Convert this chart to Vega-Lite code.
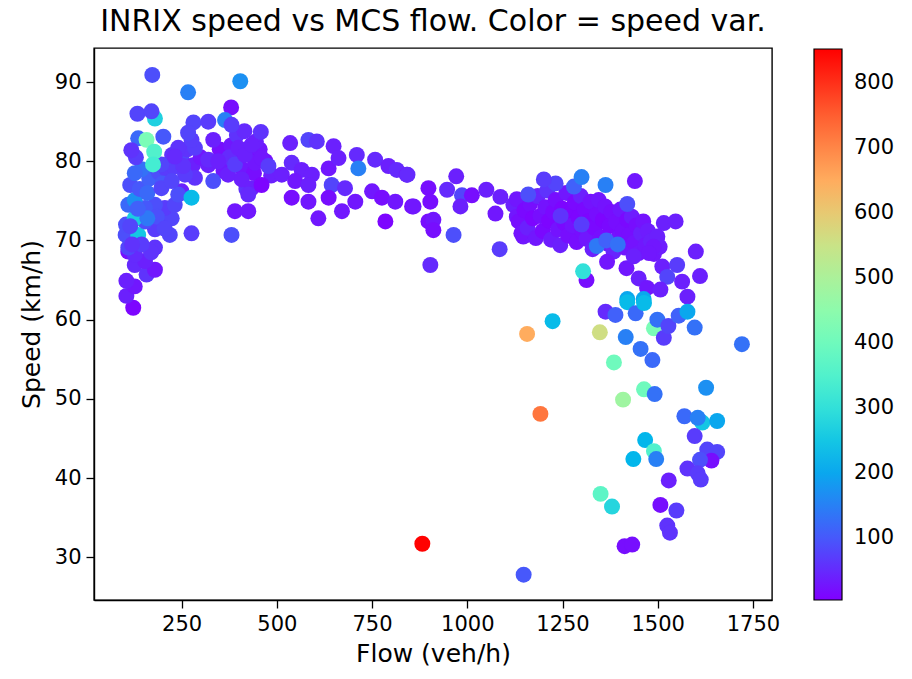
{
  "$schema": "https://vega.github.io/schema/vega-lite/v6.json",
  "width": 678,
  "height": 552,
  "autosize": {"type": "none"},
  "padding": {"left": 94, "top": 48, "right": 140, "bottom": 79},
  "background": "white",
  "title": {"text": "INRIX speed vs MCS flow. Color = speed var.", "font": "DejaVu Sans", "fontSize": 30, "fontWeight": "normal", "color": "black", "anchor": "middle", "offset": 11},
  "config": {
    "view": {"stroke": "black", "strokeWidth": 1.4},
    "axis": {"grid": false, "domainColor": "black", "domainWidth": 1.4, "tickColor": "black", "tickWidth": 1.3, "tickSize": 8, "labelFont": "DejaVu Sans", "labelFontSize": 21, "labelColor": "black", "labelPadding": 5, "titleFont": "DejaVu Sans", "titleFontSize": 25, "titleFontWeight": "normal", "titleColor": "black"}
  },
  "data": {"values": [
    {"f":110,"s":68.6,"v":20},{"f":123,"s":61.5,"v":10},{"f":105,"s":63.0,"v":40},{"f":127,"s":64.2,"v":30},{"f":105,"s":64.9,"v":40},{"f":127,"s":66.9,"v":50},{"f":158,"s":65.7,"v":60},{"f":180,"s":66.3,"v":30},{"f":154,"s":67.4,"v":40},{"f":127,"s":68.2,"v":50},{"f":110,"s":69.1,"v":80},{"f":180,"s":69.1,"v":60},{"f":103,"s":70.7,"v":90},{"f":180,"s":71.4,"v":70},{"f":219,"s":70.7,"v":80},{"f":136,"s":70.7,"v":250},{"f":104,"s":72.0,"v":90},{"f":154,"s":72.4,"v":90},{"f":197,"s":73.3,"v":50},{"f":224,"s":72.8,"v":80},{"f":206,"s":74.1,"v":70},{"f":180,"s":74.5,"v":90},{"f":154,"s":74.1,"v":100},{"f":127,"s":72.8,"v":260},{"f":110,"s":74.5,"v":120},{"f":127,"s":75.1,"v":170},
    {"f":115,"s":77.0,"v":90},{"f":140,"s":76.5,"v":100},{"f":165,"s":77.8,"v":110},{"f":190,"s":78.6,"v":90},{"f":210,"s":79.0,"v":70},{"f":225,"s":80.8,"v":60},{"f":145,"s":79.0,"v":130},{"f":130,"s":80.5,"v":70},{"f":160,"s":76.0,"v":120},{"f":185,"s":73.0,"v":90},{"f":205,"s":71.5,"v":80},{"f":170,"s":68.5,"v":60},{"f":145,"s":69.5,"v":70},{"f":120,"s":69.5,"v":60},{"f":115,"s":71.8,"v":80},{"f":160,"s":72.8,"v":140},{"f":135,"s":74.0,"v":110},{"f":200,"s":77.2,"v":100},{"f":230,"s":79.3,"v":70},{"f":250,"s":80.3,"v":80},{"f":265,"s":81.5,"v":60},{"f":280,"s":79.5,"v":40},{"f":300,"s":80.5,"v":30},{"f":320,"s":79.5,"v":40},
    {"f":250,"s":76.2,"v":40},{"f":232,"s":74.5,"v":80},{"f":197,"s":76.6,"v":80},{"f":241,"s":75.8,"v":90},{"f":276,"s":75.4,"v":230},{"f":285,"s":77.9,"v":60},{"f":259,"s":78.3,"v":70},{"f":224,"s":77.5,"v":80},{"f":276,"s":70.9,"v":70},{"f":381,"s":70.7,"v":90},{"f":390,"s":73.7,"v":30},{"f":425,"s":73.7,"v":30},
    {"f":350,"s":81.5,"v":20},{"f":380,"s":82.0,"v":30},{"f":395,"s":80.5,"v":20},{"f":410,"s":79.0,"v":30},{"f":425,"s":81.0,"v":20},{"f":440,"s":78.5,"v":20},{"f":455,"s":81.5,"v":30},{"f":470,"s":80.0,"v":20},{"f":485,"s":78.2,"v":40},{"f":360,"s":78.8,"v":30},{"f":375,"s":80.5,"v":50},{"f":420,"s":76.5,"v":60},{"f":445,"s":82.5,"v":40},{"f":395,"s":83.3,"v":60},{"f":415,"s":83.8,"v":50},
    {"f":333,"s":77.5,"v":90},{"f":372,"s":78.3,"v":40},{"f":408,"s":77.7,"v":40},{"f":434,"s":76.6,"v":40},{"f":425,"s":75.8,"v":50},{"f":460,"s":77.0,"v":10},{"f":390,"s":79.6,"v":70},{"f":443,"s":79.8,"v":30},{"f":460,"s":80.4,"v":30},{"f":478,"s":79.4,"v":70},{"f":333,"s":82.7,"v":40},{"f":241,"s":81.7,"v":60},{"f":285,"s":81.7,"v":70},{"f":320,"s":80.2,"v":50},{"f":346,"s":80.0,"v":40},{"f":399,"s":81.7,"v":40},{"f":416,"s":80.8,"v":40},{"f":434,"s":82.1,"v":40},{"f":254,"s":79.4,"v":60},{"f":197,"s":79.6,"v":80},{"f":232,"s":80.6,"v":50},{"f":276,"s":82.7,"v":70},
    {"f":173,"s":90.9,"v":90},{"f":267,"s":88.7,"v":150},{"f":404,"s":90.1,"v":170},{"f":380,"s":86.8,"v":20},{"f":134,"s":86.0,"v":80},{"f":180,"s":85.4,"v":270},{"f":171,"s":86.3,"v":80},{"f":281,"s":84.9,"v":80},{"f":320,"s":85.0,"v":70},{"f":364,"s":85.2,"v":150},{"f":381,"s":84.6,"v":70},{"f":458,"s":83.7,"v":60},{"f":267,"s":83.6,"v":80},{"f":202,"s":83.1,"v":100},{"f":136,"s":82.9,"v":120},{"f":158,"s":82.7,"v":420},{"f":118,"s":81.4,"v":60},{"f":178,"s":81.2,"v":350},{"f":127,"s":78.5,"v":120},{"f":175,"s":79.6,"v":330},
    {"f":535,"s":82.3,"v":40},{"f":583,"s":82.7,"v":80},{"f":605,"s":82.5,"v":60},{"f":649,"s":81.9,"v":40},{"f":710,"s":80.8,"v":50},{"f":758,"s":80.2,"v":50},{"f":793,"s":79.4,"v":40},{"f":815,"s":78.9,"v":50},{"f":841,"s":78.3,"v":40},{"f":539,"s":79.8,"v":50},{"f":565,"s":78.9,"v":40},{"f":592,"s":78.3,"v":40},{"f":636,"s":79.1,"v":30},{"f":662,"s":80.4,"v":40},{"f":513,"s":78.3,"v":40},{"f":548,"s":77.5,"v":30},{"f":583,"s":77.0,"v":40},{"f":644,"s":77.0,"v":80},{"f":679,"s":76.6,"v":50},{"f":539,"s":75.4,"v":20},{"f":583,"s":74.9,"v":30},{"f":636,"s":75.4,"v":20},{"f":706,"s":74.9,"v":30},{"f":750,"s":76.2,"v":30},{"f":776,"s":75.4,"v":20},{"f":811,"s":74.9,"v":30},{"f":855,"s":74.3,"v":20},{"f":898,"s":76.6,"v":20},{"f":903,"s":74.9,"v":20},{"f":898,"s":72.4,"v":20},{"f":785,"s":72.4,"v":10},{"f":671,"s":73.7,"v":30},{"f":609,"s":72.8,"v":30},{"f":903,"s":66.9,"v":50},{"f":714,"s":79.1,"v":150},
    {"f":843,"s":78.3,"v":50},{"f":971,"s":78.1,"v":40},{"f":859,"s":74.3,"v":30},{"f":947,"s":76.4,"v":50},{"f":986,"s":75.7,"v":80},{"f":1012,"s":75.7,"v":20},{"f":1050,"s":76.4,"v":40},{"f":1087,"s":75.5,"v":40},{"f":1074,"s":73.4,"v":30},{"f":982,"s":74.3,"v":40},{"f":911,"s":72.6,"v":30},{"f":911,"s":71.3,"v":20},{"f":964,"s":70.7,"v":90},{"f":1085,"s":68.9,"v":70},
    {"f":1121,"s":74.5,"v":40},{"f":1130,"s":73.0,"v":30},{"f":1147,"s":70.5,"v":30},
    {"f":1130,"s":75.2,"v":30},{"f":1135,"s":72.4,"v":20},{"f":1142,"s":70.9,"v":25},{"f":1150,"s":73.8,"v":15},{"f":1158,"s":71.6,"v":40},{"f":1165,"s":74.6,"v":20},{"f":1172,"s":72.8,"v":10},{"f":1180,"s":70.3,"v":30},{"f":1185,"s":75.6,"v":45},{"f":1192,"s":73.1,"v":20},{"f":1198,"s":71.2,"v":15},{"f":1205,"s":74.2,"v":25},{"f":1210,"s":76.3,"v":60},{"f":1215,"s":72.5,"v":10},{"f":1220,"s":70.1,"v":35},{"f":1226,"s":73.6,"v":15},{"f":1232,"s":75.1,"v":20},{"f":1238,"s":71.4,"v":25},{"f":1244,"s":69.4,"v":40},{"f":1250,"s":74.0,"v":10},{"f":1255,"s":72.2,"v":15},{"f":1260,"s":76.0,"v":30},{"f":1265,"s":70.6,"v":20},{"f":1270,"s":73.4,"v":10},{"f":1276,"s":71.9,"v":25},{"f":1282,"s":74.8,"v":15},{"f":1287,"s":69.8,"v":20},{"f":1292,"s":72.9,"v":10},{"f":1298,"s":75.6,"v":40},{"f":1303,"s":71.1,"v":20},{"f":1308,"s":73.9,"v":15},{"f":1313,"s":70.2,"v":30},{"f":1318,"s":72.4,"v":10},{"f":1324,"s":74.9,"v":25},{"f":1329,"s":68.9,"v":40},{"f":1334,"s":71.6,"v":15},{"f":1340,"s":73.3,"v":20},{"f":1345,"s":75.1,"v":30},{"f":1350,"s":70.4,"v":20},{"f":1356,"s":72.6,"v":10},{"f":1362,"s":74.3,"v":25},{"f":1368,"s":69.6,"v":35},{"f":1373,"s":71.8,"v":15},{"f":1378,"s":73.6,"v":20},{"f":1384,"s":68.6,"v":45},{"f":1390,"s":72.3,"v":20},{"f":1396,"s":70.3,"v":25},{"f":1402,"s":73.9,"v":30},{"f":1408,"s":71.2,"v":20},{"f":1414,"s":69.1,"v":30},{"f":1420,"s":72.6,"v":15},{"f":1426,"s":70.7,"v":20},{"f":1432,"s":73.0,"v":35},{"f":1438,"s":69.7,"v":25},{"f":1444,"s":71.9,"v":20},{"f":1450,"s":68.4,"v":30},{"f":1456,"s":70.9,"v":40},{"f":1462,"s":72.4,"v":25},{"f":1468,"s":69.4,"v":30},{"f":1474,"s":71.2,"v":35},{"f":1482,"s":69.9,"v":40},{"f":1490,"s":68.3,"v":30},{"f":1498,"s":70.3,"v":40},{"f":1505,"s":69.2,"v":35},
    {"f":1340,"s":69.3,"v":140},{"f":1365,"s":70.0,"v":110},{"f":1395,"s":69.5,"v":130},{"f":1280,"s":76.8,"v":110},{"f":1232,"s":77.2,"v":80},{"f":1160,"s":75.8,"v":90},{"f":1420,"s":74.6,"v":90},{"f":1300,"s":72.0,"v":70},{"f":1245,"s":73.1,"v":60},
    {"f":1201,"s":77.7,"v":70},{"f":1300,"s":78.0,"v":150},{"f":1363,"s":77.0,"v":150},{"f":1440,"s":77.5,"v":30},{"f":1516,"s":72.2,"v":40},{"f":1547,"s":72.4,"v":40},{"f":1600,"s":68.6,"v":40},{"f":1611,"s":65.5,"v":40},{"f":1313,"s":65.0,"v":20},{"f":1304,"s":66.1,"v":300},{"f":1367,"s":67.3,"v":30},{"f":1418,"s":66.5,"v":30},{"f":1450,"s":65.2,"v":40},{"f":1512,"s":66.7,"v":40},{"f":1551,"s":66.9,"v":70},{"f":1525,"s":65.4,"v":80},{"f":1564,"s":64.8,"v":40},{"f":1472,"s":64.0,"v":30},{"f":1507,"s":63.8,"v":40},{"f":1578,"s":62.9,"v":40},{"f":1420,"s":62.6,"v":200},{"f":1463,"s":62.6,"v":200},{"f":1499,"s":70.5,"v":40},{"f":1489,"s":69.2,"v":30},{"f":1477,"s":68.4,"v":30},{"f":1437,"s":68.0,"v":40},
    {"f":1157,"s":58.2,"v":650},{"f":1224,"s":59.8,"v":230},{"f":1348,"s":58.4,"v":560},{"f":1363,"s":61.0,"v":50},{"f":1389,"s":60.6,"v":110},{"f":1420,"s":62.2,"v":230},{"f":1442,"s":60.8,"v":120},{"f":1464,"s":62.1,"v":230},{"f":1416,"s":57.8,"v":150},{"f":1455,"s":56.3,"v":130},{"f":1486,"s":54.9,"v":120},{"f":1385,"s":54.6,"v":400},{"f":1490,"s":58.9,"v":420},{"f":1499,"s":60.0,"v":130},{"f":1516,"s":57.7,"v":70},{"f":1528,"s":59.2,"v":80},{"f":1555,"s":60.5,"v":110},{"f":1578,"s":61.0,"v":200},{"f":1597,"s":59.0,"v":130},{"f":1721,"s":56.9,"v":130},{"f":1464,"s":51.2,"v":400},{"f":1492,"s":50.6,"v":130},{"f":1409,"s":49.9,"v":480},{"f":1192,"s":48.1,"v":720},{"f":1627,"s":51.4,"v":170},{"f":1570,"s":47.8,"v":120},{"f":1617,"s":47.0,"v":250},{"f":1605,"s":47.6,"v":150},{"f":1656,"s":47.2,"v":200},{"f":1597,"s":45.3,"v":70},{"f":1467,"s":44.8,"v":220},{"f":1490,"s":43.4,"v":350},{"f":1496,"s":42.4,"v":150},{"f":1436,"s":42.4,"v":220},{"f":1630,"s":43.6,"v":80},{"f":1656,"s":43.3,"v":80},{"f":1641,"s":42.2,"v":20},{"f":1611,"s":42.3,"v":90},{"f":1578,"s":41.2,"v":60},{"f":1605,"s":40.6,"v":70},{"f":1613,"s":39.8,"v":70},{"f":1529,"s":39.7,"v":40},{"f":1350,"s":38.0,"v":370},{"f":1380,"s":36.4,"v":280},{"f":1507,"s":36.6,"v":20},{"f":1549,"s":35.9,"v":70},{"f":1525,"s":34.0,"v":60},{"f":1532,"s":33.1,"v":60},{"f":1413,"s":31.4,"v":20},{"f":1433,"s":31.6,"v":20},{"f":1148,"s":27.8,"v":100},{"f":882,"s":31.7,"v":850}
  ]},
  "mark": {"type": "circle", "size": 255, "opacity": 1, "strokeWidth": 0},
  "encoding": {
    "x": {"field": "f", "type": "quantitative", "title": "Flow (veh/h)", "scale": {"domain": [20, 1800], "nice": false, "zero": false}, "axis": {"values": [250, 500, 750, 1000, 1250, 1500, 1750], "format": "d", "titlePadding": 7}},
    "y": {"field": "s", "type": "quantitative", "title": "Speed (km/h)", "scale": {"domain": [24.6, 94.3], "nice": false, "zero": false}, "axis": {"values": [30, 40, 50, 60, 70, 80, 90], "titlePadding": 10}},
    "color": {"field": "v", "type": "quantitative",
      "scale": {"domain": [5, 110.9, 216.75, 322.6, 428.5, 534.4, 640.25, 746.1, 852], "range": ["#8000ff", "#4062fa", "#00b4ec", "#40ecd4", "#80ffb4", "#c0eb8d", "#ffb462", "#ff6232", "#ff0000"], "interpolate": "rgb"},
      "legend": {"orient": "none", "legendX": 720, "legendY": 1, "direction": "vertical", "title": null, "gradientLength": 551, "gradientThickness": 28, "gradientStrokeColor": "black", "gradientStrokeWidth": 1.2, "labelFont": "DejaVu Sans", "labelFontSize": 21, "labelColor": "black", "labelOffset": 12, "values": [100, 200, 300, 400, 500, 600, 700, 800]}}
  }
}
